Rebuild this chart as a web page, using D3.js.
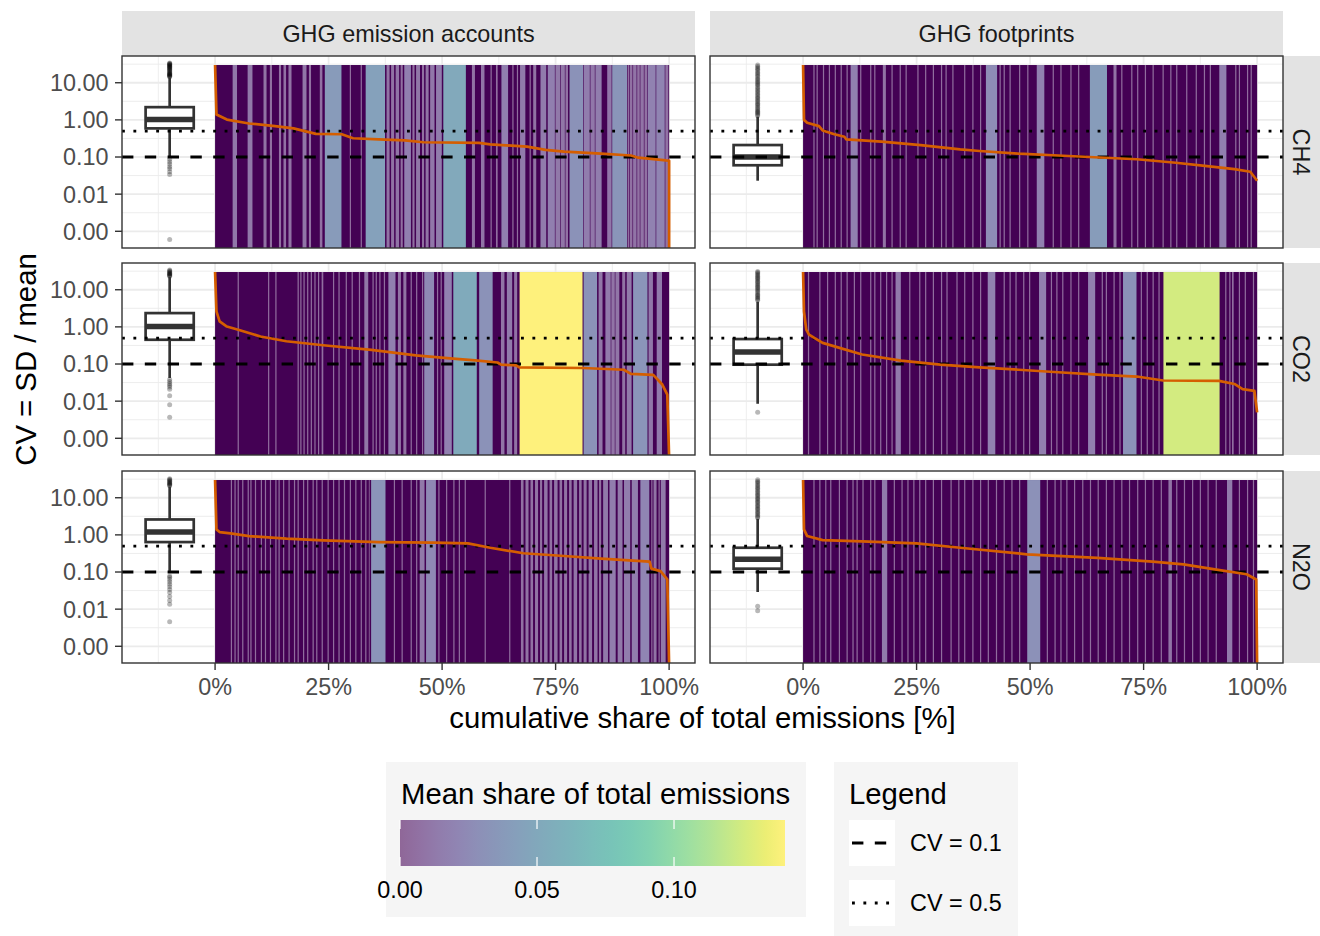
<!DOCTYPE html>
<html>
<head>
<meta charset="utf-8">
<script src="https://cdn.jsdelivr.net/npm/d3@7"></script>
<style>
  body { margin: 0; background: #fff; }
  svg { font-family: "Liberation Sans", Arial, sans-serif; }
</style>
</head>
<body>
<svg id="chart" width="1320" height="936"></svg>
<script>
// ---- data -------------------------------------------------------------
var columns = ["GHG emission accounts", "GHG footprints"];
var gases = ["CH4", "CO2", "N2O"];
var xTicks = [0, 25, 50, 75, 100];
var xTickLabels = ["0%", "25%", "50%", "75%", "100%"];
var yTicks = [0.001, 0.01, 0.1, 1, 10];
var yTickLabels = ["0.00", "0.01", "0.10", "1.00", "10.00"];
var cvRefs = [0.1, 0.5];
var cvRefLabels = ["CV = 0.1", "CV = 0.5"];
var colourTicks = [0, 0.05, 0.10];
var colourTickLabels = ["0.00", "0.05", "0.10"];
var barTopCv = 30;

// CV curve, sectors sorted by CV: [cumulative share %, CV]
var ch4AccCv = [[0,30],[0.3,1.4],[2.6,1.02],[7.5,0.8],[13.2,0.68],[17.3,0.59],[22.2,0.42],[27.9,0.41],[30.4,0.32],[36,0.3],[41.8,0.28],[45.9,0.25],[58.1,0.24],[60.6,0.22],[68.7,0.19],[72.8,0.155],[76.9,0.14],[85,0.123],[91.6,0.11],[93.2,0.096],[99.3,0.081],[100,0.08],[100,0.0003]];
var ch4FootCv = [[0,30],[0.2,1.0],[0.9,0.84],[3.5,0.68],[4.3,0.52],[6.9,0.41],[9.1,0.35],[9.5,0.3],[17.3,0.26],[25.9,0.21],[34.6,0.16],[38.9,0.145],[47.5,0.123],[56.2,0.11],[63,0.1],[73.5,0.087],[82.1,0.07],[89,0.057],[95,0.047],[98.5,0.04],[100,0.023]];
var co2AccCv = [[0,30],[0.3,2.6],[1,1.4],[2.6,1.02],[5.1,0.84],[10,0.55],[15.7,0.41],[23.8,0.32],[34.4,0.24],[44.2,0.17],[52.4,0.14],[57.3,0.125],[62.2,0.11],[63,0.096],[66.3,0.092],[67,0.081],[81,0.078],[90,0.07],[91.6,0.054],[96.5,0.051],[98.5,0.028],[99.6,0.015],[100,0.0003]];
var co2FootCv = [[0,30],[0.2,2.6],[0.7,0.84],[1.3,0.62],[4.3,0.37],[8.6,0.26],[13,0.18],[21.6,0.123],[30.2,0.096],[38.9,0.081],[47.5,0.07],[56.2,0.06],[64.8,0.052],[73.5,0.046],[79.3,0.036],[91.6,0.035],[95,0.029],[96.8,0.021],[99.4,0.019],[100,0.005]];
var n2oAccCv = [[0,30],[0.3,1.4],[1,1.19],[3.4,1.1],[7.5,0.93],[15.7,0.79],[23.8,0.71],[36,0.64],[48.3,0.62],[55.7,0.59],[60.6,0.45],[67.9,0.32],[76.9,0.27],[85,0.23],[95.7,0.19],[96.1,0.123],[98.1,0.106],[99.6,0.063],[100,0.0003]];
var n2oFootCv = [[0,30],[0.2,1.4],[0.9,0.93],[4.3,0.72],[13,0.67],[25,0.59],[34.6,0.45],[49.3,0.3],[64.8,0.24],[77,0.19],[83.8,0.16],[90.7,0.118],[97.7,0.087],[99.8,0.063],[100,0.0003]];

// sectors wide enough to show on their own: [start %, end %]
// (everything else is made of many tiny sectors, share ~ 0)
var ch4AccBars = [[3.8,4.9],[7.1,8.3],[10.6,11.4],[12,12.6],[14,14.6],[15,15.7],[16.1,16.9],[19.2,20.2],[20.6,21.2],[23,23.7],[24.1,27.9],[29.6,30],[32,32.4],[33.1,37.5],[37.7,38.5],[38.7,39.5],[39.7,40.6],[40.8,41.4],[41.6,43.2],[43.4,44],[44.2,45.2],[45.5,46.1],[46.3,47.1],[47.3,48.4],[48.6,50],[50.2,55.3],[56.5,57.3],[58.5,59.4],[60.6,61],[61.8,62.3],[63,64.6],[65.4,65.8],[66.4,66.8],[67.1,68.4],[69.2,69.6],[70,70.8],[71.6,73],[73.2,74.9],[74.9,76.1],[76.1,77.1],[77.1,77.8],[78,81.1],[81.1,82.6],[82.6,83.7],[83.7,85.2],[86.3,87.4],[87.4,90.8],[90.8,91.3],[91.3,92],[92,92.9],[92.9,93.6],[93.6,94.5],[94.5,95.2],[95.2,97.1],[97.1,99.1],[99.1,99.9]];
var ch4FootBars = [[2.2,2.6],[2.9,3.3],[4.3,4.7],[5.6,6],[6.9,7.3],[8.2,8.6],[9.5,9.9],[10.4,12.1],[12.5,12.9],[14.7,15.1],[15.6,16],[17.5,18.3],[19.4,19.8],[21.2,21.6],[22.5,22.9],[25.1,25.5],[26.8,27.2],[28.5,28.9],[30.3,30.7],[31.3,31.7],[32.8,33.2],[35.4,35.8],[37.2,37.6],[38.9,39.3],[40.2,42.8],[43.2,43.6],[44.1,44.5],[45.4,45.8],[47.5,47.9],[49.3,49.7],[51.4,53.2],[54.9,55.3],[56.6,57],[58.8,59.2],[60.5,60.9],[63.1,67],[68.3,69.1],[70,70.4],[72.2,72.6],[73.5,73.9],[75.2,75.6],[76.9,77.3],[79.1,79.5],[80.8,81.2],[82.1,82.5],[84.3,84.7],[86.4,86.8],[88.2,88.6],[89.5,89.9],[91.6,93.3],[95.1,95.5],[95.9,96.3],[97.7,98.1],[98.5,98.9]];
var co2AccBars = [[4.9,5.3],[11.6,12],[13.2,13.6],[18.1,18.5],[18.7,19.1],[19.4,19.8],[20.2,20.6],[21,21.4],[21.8,22.2],[22.6,23],[23.4,23.9],[25.9,26.3],[27.1,27.5],[28.7,29.1],[30,30.4],[31.6,32],[32.8,33.8],[34.6,35],[35.3,35.7],[36.1,36.5],[37.1,37.5],[38.1,39.8],[40.2,41],[41.4,42.2],[43,43.4],[44.2,44.6],[45.5,45.9],[46,48.3],[48.8,49.2],[49.6,50],[50.4,52.2],[52.4,57.7],[58.1,61.2],[62.9,63.8],[64.2,65.5],[65.8,66.6],[67,81],[81.1,84.2],[84.4,85.4],[85.9,87.2],[87.2,88.1],[88.1,89.1],[89.6,90.4],[90.6,91.8],[92,95.3],[95.4,96.5],[97.2,98.5]];
var co2FootBars = [[1,1.4],[3.5,3.9],[5.2,5.6],[6.9,7.3],[8.2,8.6],[9.5,9.9],[11.1,11.5],[12.5,12.9],[14.7,15.1],[15.6,16],[16.9,17.3],[18.2,18.6],[19.4,19.8],[20.3,21.6],[23.3,23.7],[25.5,25.9],[26.8,27.2],[28.5,28.9],[30.3,30.7],[31.5,31.9],[33.7,34.1],[35.4,35.8],[37.2,37.6],[38.9,39.3],[40.6,42.4],[44.1,44.5],[45.4,45.8],[46.7,47.1],[48.4,48.8],[49.7,50.1],[51.9,53.6],[54.5,54.9],[55.7,56.1],[57,57.4],[58.8,59.2],[60.5,60.9],[62.7,64.4],[65.7,66.1],[66.6,67],[68.3,68.7],[69.6,70],[70.4,73.5],[74.3,74.7],[75.6,76],[76.9,77.3],[78.2,78.6],[79.3,91.8],[92.9,93.3],[93.8,94.2],[94.4,94.9],[95.9,96.3],[97.2,97.6],[99,99.4]];
var n2oAccBars = [[3.4,3.8],[4.2,4.6],[4.9,5.3],[5.9,6.3],[7.1,7.5],[7.7,8.1],[8.7,9.1],[10,10.4],[10.9,11.3],[12,12.4],[13.2,13.6],[13.9,14.3],[14.9,15.3],[16.1,16.5],[17.3,17.7],[18.1,18.5],[19.3,19.7],[20.2,20.6],[21.4,21.8],[22.2,22.6],[23.4,23.8],[24.7,25.1],[25.9,26.3],[27.1,27.5],[28.3,28.7],[29.6,30],[30.8,31.2],[32,32.4],[33,33.4],[33.8,34.1],[34.3,37.6],[39.3,39.7],[41,41.4],[43,43.4],[44.2,44.6],[45,46.2],[46.4,48.7],[49.1,49.5],[50.8,51.2],[52.4,52.8],[53.6,54],[54.9,55.3],[59.3,59.7],[64.7,65.1],[67.3,68],[68.3,69.1],[69.4,70.1],[70.4,71.2],[71.5,72.1],[72.4,73.3],[73.6,74.3],[74.6,75.5],[75.8,76.5],[76.8,77.6],[77.9,78.6],[78.9,79.8],[80.1,80.8],[81.1,81.9],[82.2,83.1],[83.4,84.3],[84.5,85.1],[85.4,86.6],[86.8,88.3],[88.6,89.8],[90,91.5],[91.7,93.2],[93.6,95.7],[96,96.4],[96.5,97.3],[97.6,98],[98.1,99.3]];
var n2oFootBars = [[2.2,2.6],[3.5,3.9],[4.8,5.2],[5.9,6.3],[7.8,8.2],[9.5,9.9],[10.8,11.2],[11.7,12.1],[13,13.4],[14.7,15.1],[15.6,16],[17.3,18.6],[19.9,20.3],[21.6,22],[22.9,23.3],[24.2,24.6],[25.5,25.9],[26.8,27.2],[28.5,28.9],[30.3,30.7],[32.4,32.8],[34.1,34.5],[35.4,35.8],[37.2,37.6],[38.9,39.3],[40.6,41],[42.4,42.8],[44.1,44.5],[45.8,46.2],[47.5,47.9],[49.3,52.3],[53.6,54],[55.3,55.7],[56.6,57],[57.9,58.3],[59.6,60],[61.4,61.8],[63.1,63.5],[64.8,65.2],[66.6,67],[68.3,68.7],[70,70.4],[71.7,72.1],[73.5,73.9],[75.2,75.6],[76.9,77.3],[78.7,79.1],[80.4,81.3],[82.1,82.5],[83.8,84.2],[85.6,86],[87.3,87.7],[89,89.4],[90.8,91.2],[93.3,94.6],[95.9,96.3],[97.7,98.1],[99,99.4]];

// boxplots of sector CVs: [lower whisker, q1, median, q3, upper whisker]
var ch4AccBox = [0.096, 0.59, 1.02, 2.2, 14];
var ch4FootBox = [0.023, 0.06, 0.1, 0.21, 1.22];
var co2AccBox = [0.042, 0.45, 1.02, 2.35, 22];
var co2FootBox = [0.0085, 0.096, 0.21, 0.47, 4.8];
var n2oAccBox = [0.107, 0.64, 1.19, 2.6, 20];
var n2oFootBox = [0.029, 0.123, 0.22, 0.45, 2.7];

var ch4AccOut = [0.087,0.075,0.065,0.055,0.048,0.04,0.034,0.0006,14.5,15,15.5,16,16.5,17,17.5,18,19,20,21,22,23,24,25,26,27,28,29,30,31,32,33,34];
var ch4FootOut = [1.3,1.4,1.5,1.6,1.7,1.85,2,2.2,2.4,2.6,2.8,3.1,3.4,3.7,4,4.4,4.8,5.3,5.8,6.4,7,7.7,8.5,9.3,10,11,12,13,14.5,16,17.5,19,21,23,25,27.5,30];
var co2AccOut = [23,24,25,26,27,28,29.5,31,32.5,34,0.038,0.034,0.03,0.027,0.024,0.021,0.014,0.008,0.0037];
var co2FootOut = [5.2,5.6,6,6.5,7,7.5,8.2,9,9.8,10.6,11.5,12.5,13.5,14.6,15.8,17,18.5,20,21.5,23,25,27,29,31,0.005];
var n2oAccOut = [21,22,23,24,25,26.5,28,29.5,31,32.5,0.078,0.072,0.063,0.055,0.047,0.04,0.034,0.028,0.022,0.017,0.0135,0.0046];
var n2oFootOut = [2.9,3.1,3.4,3.7,4,4.4,4.8,5.2,5.7,6.2,6.8,7.4,8.1,8.8,9.6,10.5,11.5,12.5,13.7,15,16.4,18,19.6,21.4,23.4,25.6,28,30.5,0.012,0.009];

// ---- layout -----------------------------------------------------------
var panelW = 573, panelH = 192;
var colX = [122, 710], rowY = [56, 263, 471];
var small = 23.4, big = 29.3;
var refLw = 2.85;
var refDash = [refLw * 4 + "," + refLw * 4, refLw + "," + refLw * 3];

var panels = [
  {col: 0, row: 0, cv: ch4AccCv, bars: ch4AccBars, box: ch4AccBox, out: ch4AccOut},
  {col: 1, row: 0, cv: ch4FootCv, bars: ch4FootBars, box: ch4FootBox, out: ch4FootOut},
  {col: 0, row: 1, cv: co2AccCv, bars: co2AccBars, box: co2AccBox, out: co2AccOut},
  {col: 1, row: 1, cv: co2FootCv, bars: co2FootBars, box: co2FootBox, out: co2FootOut},
  {col: 0, row: 2, cv: n2oAccCv, bars: n2oAccBars, box: n2oAccBox, out: n2oAccOut},
  {col: 1, row: 2, cv: n2oFootCv, bars: n2oFootBars, box: n2oFootBox, out: n2oFootOut}
];

var x = d3.scaleLinear().domain([-20.5, 105.7]).range([0, panelW]);
var y = d3.scaleLog().domain([Math.pow(10, -3.45), Math.pow(10, 1.72)]).range([panelH, 0]);
var colour = d3.scaleSequential(d3.interpolateViridis).domain([0, 0.1405]);
function fillOf(share) { return d3.interpolateRgb("#ffffff", colour(share))(0.6); }

var boxX = -10, boxHalf = 5.3;

var svg = d3.select("#chart");

// strips
columns.forEach(function (c, i) {
  svg.append("rect").attr("x", colX[i]).attr("y", 11).attr("width", panelW).attr("height", 45)
      .attr("fill", "#e3e3e3");
  svg.append("text").attr("x", colX[i] + panelW / 2).attr("y", 33.5).attr("dy", "0.36em")
      .attr("text-anchor", "middle").attr("font-size", small).attr("fill", "#1a1a1a").text(c);
});
gases.forEach(function (g, i) {
  svg.append("rect").attr("x", colX[1] + panelW).attr("y", rowY[i]).attr("width", 37).attr("height", panelH)
      .attr("fill", "#e3e3e3");
  svg.append("text")
      .attr("transform", "translate(" + (colX[1] + panelW + 18.5) + "," + (rowY[i] + panelH / 2) + ") rotate(90)")
      .attr("dy", "0.36em").attr("text-anchor", "middle").attr("font-size", small).attr("fill", "#1a1a1a").text(g);
});

var minorX = [-12.5, 12.5, 37.5, 62.5, 87.5];
var minorY = [-2.5, -1.5, -0.5, 0.5, 1.5].map(function (p) { return Math.pow(10, p); });

panels.forEach(function (p, i) {
  var g = svg.append("g")
      .attr("transform", "translate(" + colX[p.col] + "," + rowY[p.row] + ")");

  g.append("clipPath").attr("id", "clip" + i)
    .append("rect").attr("width", panelW).attr("height", panelH);

  var inner = g.append("g").attr("clip-path", "url(#clip" + i + ")");

  // grid
  inner.selectAll(".minx").data(minorX).enter().append("line")
      .attr("x1", x).attr("x2", x).attr("y1", 0).attr("y2", panelH)
      .attr("stroke", "#ebebeb").attr("stroke-width", 0.9);
  inner.selectAll(".miny").data(minorY).enter().append("line")
      .attr("x1", 0).attr("x2", panelW).attr("y1", y).attr("y2", y)
      .attr("stroke", "#ebebeb").attr("stroke-width", 0.9);
  inner.selectAll(".majx").data(xTicks).enter().append("line")
      .attr("x1", x).attr("x2", x).attr("y1", 0).attr("y2", panelH)
      .attr("stroke", "#ebebeb").attr("stroke-width", 1.8);
  inner.selectAll(".majy").data(yTicks).enter().append("line")
      .attr("x1", 0).attr("x2", panelW).attr("y1", y).attr("y2", y)
      .attr("stroke", "#ebebeb").attr("stroke-width", 1.8);

  // the many tiny sectors
  inner.append("rect")
      .attr("x", x(0)).attr("width", x(100) - x(0))
      .attr("y", y(barTopCv)).attr("height", panelH - y(barTopCv))
      .attr("fill", colour(0));

  // sectors with a visible share
  inner.selectAll(".bar").data(p.bars).enter().append("rect")
      .attr("x", function (d) { return x(d[0]) + 0.3; })
      .attr("width", function (d) { return Math.max(0.8, x(d[1]) - x(d[0]) - 0.6); })
      .attr("y", y(barTopCv)).attr("height", panelH - y(barTopCv))
      .attr("fill", function (d) { return fillOf((d[1] - d[0]) / 100); });

  // boxplot
  var b = p.box;
  var bx0 = x(boxX - boxHalf), bx1 = x(boxX + boxHalf), bxc = x(boxX);
  inner.selectAll(".out").data(p.out).enter().append("circle")
      .attr("cx", bxc).attr("cy", y).attr("r", 2.5)
      .attr("fill", "#000").attr("fill-opacity", 0.28);
  inner.append("line").attr("x1", bxc).attr("x2", bxc).attr("y1", y(b[4])).attr("y2", y(b[3]))
      .attr("stroke", "#333").attr("stroke-width", 2.7);
  inner.append("line").attr("x1", bxc).attr("x2", bxc).attr("y1", y(b[1])).attr("y2", y(b[0]))
      .attr("stroke", "#333").attr("stroke-width", 2.7);
  inner.append("rect").attr("x", bx0).attr("width", bx1 - bx0)
      .attr("y", y(b[3])).attr("height", y(b[1]) - y(b[3]))
      .attr("fill", "#fff").attr("stroke", "#333").attr("stroke-width", 2.7);
  inner.append("line").attr("x1", bx0).attr("x2", bx1).attr("y1", y(b[2])).attr("y2", y(b[2]))
      .attr("stroke", "#333").attr("stroke-width", 5.4);

  // reference CVs
  inner.selectAll(".ref").data(cvRefs).enter().append("line")
      .attr("x1", 0).attr("x2", panelW).attr("y1", y).attr("y2", y)
      .attr("stroke", "#000").attr("stroke-width", refLw)
      .attr("stroke-dasharray", function (d, k) { return refDash[k]; });

  // CV curve
  inner.append("path")
      .datum(p.cv)
      .attr("d", d3.line().x(function (d) { return x(d[0]); }).y(function (d) { return y(d[1]); }))
      .attr("fill", "none").attr("stroke", "#d55e00").attr("stroke-width", 2.7)
      .attr("stroke-linejoin", "round");

  // border
  g.append("rect").attr("width", panelW).attr("height", panelH)
      .attr("fill", "none").attr("stroke", "#333").attr("stroke-width", 1.4);

  // y axis on the left column
  if (p.col === 0) {
    yTicks.forEach(function (t, k) {
      g.append("line").attr("x1", -7).attr("x2", 0).attr("y1", y(t)).attr("y2", y(t))
          .attr("stroke", "#333").attr("stroke-width", 1.4);
      g.append("text").attr("x", -13.5).attr("y", y(t)).attr("dy", "0.36em")
          .attr("text-anchor", "end").attr("font-size", small).attr("fill", "#4d4d4d")
          .text(yTickLabels[k]);
    });
  }
  // x axis on the bottom row
  if (p.row === 2) {
    xTicks.forEach(function (t, k) {
      g.append("line").attr("x1", x(t)).attr("x2", x(t)).attr("y1", panelH).attr("y2", panelH + 7)
          .attr("stroke", "#333").attr("stroke-width", 1.4);
      g.append("text").attr("x", x(t)).attr("y", panelH + 32)
          .attr("text-anchor", "middle").attr("font-size", small).attr("fill", "#4d4d4d")
          .text(xTickLabels[k]);
    });
  }
});

// axis titles
svg.append("text").attr("x", (colX[0] + colX[1] + panelW) / 2).attr("y", 728)
    .attr("text-anchor", "middle").attr("font-size", big).attr("fill", "#000")
    .text("cumulative share of total emissions [%]");
svg.append("text").attr("transform", "translate(25," + (rowY[0] + rowY[2] + panelH) / 2 + ") rotate(-90)")
    .attr("dy", "0.36em").attr("text-anchor", "middle").attr("font-size", big).attr("fill", "#000")
    .text("CV = SD / mean");

// colour legend
var leg1 = svg.append("g");
leg1.append("rect").attr("x", 386).attr("y", 762).attr("width", 420).attr("height", 155).attr("fill", "#f5f5f5");
leg1.append("text").attr("x", 401).attr("y", 803.5).attr("font-size", big).attr("fill", "#000")
    .text("Mean share of total emissions");
var cbX = d3.scaleLinear().domain(colour.domain()).range([400, 785]);
var grad = svg.append("defs").append("linearGradient").attr("id", "cbar");
d3.range(0, 1.0001, 0.05).forEach(function (f) {
  grad.append("stop").attr("offset", f).attr("stop-color", fillOf(f * 0.1405));
});
leg1.append("rect").attr("x", 400).attr("y", 820).attr("width", 385).attr("height", 46).attr("fill", "url(#cbar)");
colourTicks.forEach(function (t, k) {
  leg1.append("line").attr("x1", cbX(t)).attr("x2", cbX(t)).attr("y1", 820).attr("y2", 829)
      .attr("stroke", "#fff").attr("stroke-width", 1.2);
  leg1.append("line").attr("x1", cbX(t)).attr("x2", cbX(t)).attr("y1", 857).attr("y2", 866)
      .attr("stroke", "#fff").attr("stroke-width", 1.2);
  leg1.append("text").attr("x", cbX(t)).attr("y", 898).attr("text-anchor", "middle")
      .attr("font-size", small).attr("fill", "#000").text(colourTickLabels[k]);
});

// line type legend
var leg2 = svg.append("g");
leg2.append("rect").attr("x", 834).attr("y", 762).attr("width", 184).attr("height", 174).attr("fill", "#f5f5f5");
leg2.append("text").attr("x", 849).attr("y", 803.5).attr("font-size", big).attr("fill", "#000").text("Legend");
cvRefs.forEach(function (v, k) {
  var ky = 820 + k * 60;
  leg2.append("rect").attr("x", 849).attr("y", ky).attr("width", 46).attr("height", 46).attr("fill", "#fff");
  leg2.append("line").attr("x1", 852).attr("x2", 892).attr("y1", ky + 23).attr("y2", ky + 23)
      .attr("stroke", "#000").attr("stroke-width", refLw)
      .attr("stroke-dasharray", refDash[k]);
  leg2.append("text").attr("x", 910).attr("y", ky + 23).attr("dy", "0.36em")
      .attr("font-size", small).attr("fill", "#000").text(cvRefLabels[k]);
});
</script>
</body>
</html>
